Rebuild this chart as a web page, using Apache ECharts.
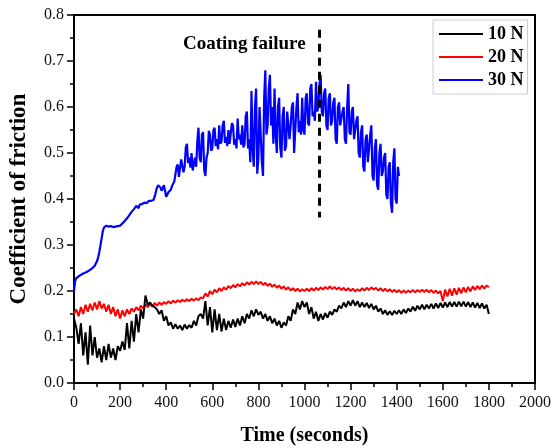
<!DOCTYPE html>
<html>
<head>
<meta charset="utf-8">
<script src="https://cdn.jsdelivr.net/npm/echarts@6/dist/echarts.min.js"></script>
<style>html,body{margin:0;padding:0;background:#fff;}#c{width:553px;height:448px;}</style>
</head>
<body>
<div id="c"></div>
<script>
// Sampling steps of the recorded curves (seconds)
const step30N = 5;
const step20N = 10;
const step10N = 10;

const seriesNames = ['10 N', '20 N', '30 N'];

// 30 N (blue), t = 0..1410 s every 5 s
const coef30N = [
0.200,0.222,0.228,0.230,0.232,0.233,0.235,0.236,0.238,0.239,
0.240,0.242,0.243,0.245,0.246,0.248,0.250,0.252,0.255,0.259,
0.265,0.274,0.285,0.300,0.315,0.330,0.338,0.341,0.342,0.341,
0.340,0.341,0.341,0.340,0.339,0.340,0.340,0.341,0.341,0.342,
0.342,0.345,0.347,0.350,0.352,0.355,0.358,0.362,0.365,0.368,
0.372,0.375,0.378,0.382,0.385,0.383,0.380,0.388,0.392,0.389,
0.386,0.392,0.395,0.391,0.388,0.396,0.400,0.396,0.392,0.398,
0.405,0.415,0.425,0.430,0.432,0.425,0.418,0.424,0.430,0.418,
0.405,0.410,0.415,0.418,0.420,0.428,0.430,0.438,0.442,0.470,
0.475,0.448,0.445,0.486,0.488,0.458,0.470,0.512,0.520,0.478,
0.490,0.468,0.500,0.462,0.465,0.490,0.470,0.525,0.555,0.490,
0.480,0.540,0.545,0.462,0.450,0.490,0.500,0.548,0.540,0.505,
0.510,0.550,0.555,0.515,0.530,0.508,0.560,0.520,0.525,0.560,
0.570,0.522,0.535,0.515,0.550,0.520,0.520,0.565,0.560,0.518,
0.530,0.510,0.575,0.530,0.540,0.518,0.560,0.512,0.520,0.580,
0.590,0.510,0.530,0.480,0.635,0.510,0.470,0.600,0.640,0.455,
0.490,0.600,0.600,0.480,0.450,0.620,0.680,0.540,0.560,0.640,
0.670,0.560,0.600,0.520,0.640,0.540,0.500,0.600,0.620,0.510,
0.490,0.580,0.600,0.505,0.515,0.590,0.590,0.530,0.560,0.600,
0.610,0.500,0.500,0.600,0.630,0.545,0.570,0.540,0.620,0.550,
0.540,0.620,0.630,0.565,0.560,0.640,0.650,0.580,0.590,0.570,
0.655,0.590,0.600,0.650,0.670,0.590,0.580,0.630,0.640,0.560,
0.550,0.620,0.630,0.560,0.570,0.610,0.620,0.530,0.520,0.600,
0.610,0.560,0.560,0.590,0.600,0.530,0.520,0.600,0.650,0.545,
0.540,0.590,0.600,0.530,0.530,0.570,0.580,0.500,0.490,0.545,
0.560,0.470,0.460,0.530,0.540,0.480,0.480,0.540,0.560,0.450,
0.440,0.510,0.530,0.430,0.420,0.500,0.520,0.450,0.460,0.490,
0.500,0.410,0.400,0.470,0.480,0.390,0.370,0.480,0.510,0.400,
0.390,0.470,0.450];

// 20 N (red), t = 0..1800 s every 10 s
const coef20N = [
0.150,0.160,0.145,0.165,0.150,0.170,0.155,0.172,0.158,0.175,
0.160,0.178,0.162,0.172,0.155,0.170,0.150,0.165,0.145,0.160,
0.140,0.158,0.145,0.160,0.150,0.162,0.155,0.165,0.158,0.168,
0.162,0.170,0.165,0.172,0.166,0.174,0.168,0.175,0.170,0.176,
0.172,0.178,0.173,0.179,0.175,0.180,0.176,0.181,0.177,0.182,
0.178,0.183,0.179,0.184,0.180,0.186,0.184,0.195,0.188,0.200,
0.193,0.203,0.197,0.206,0.200,0.208,0.203,0.211,0.206,0.213,
0.208,0.215,0.210,0.217,0.212,0.219,0.214,0.220,0.215,0.221,
0.215,0.220,0.213,0.218,0.211,0.216,0.209,0.214,0.207,0.212,
0.205,0.210,0.203,0.208,0.201,0.206,0.200,0.205,0.199,0.204,
0.200,0.205,0.200,0.206,0.201,0.207,0.202,0.208,0.203,0.209,
0.204,0.210,0.204,0.209,0.203,0.208,0.202,0.207,0.201,0.206,
0.200,0.205,0.199,0.204,0.200,0.206,0.201,0.207,0.202,0.208,
0.203,0.207,0.201,0.206,0.200,0.205,0.199,0.204,0.198,0.203,
0.197,0.202,0.196,0.201,0.196,0.201,0.197,0.202,0.197,0.202,
0.198,0.203,0.198,0.203,0.197,0.202,0.196,0.201,0.195,0.200,
0.178,0.203,0.188,0.205,0.190,0.206,0.192,0.207,0.195,0.208,
0.197,0.209,0.199,0.210,0.202,0.211,0.204,0.212,0.205,0.212,
0.208];

// 10 N (black), t = 0..1800 s every 10 s
const coef10N = [
0.140,0.120,0.085,0.130,0.060,0.110,0.040,0.125,0.060,0.100,
0.055,0.075,0.045,0.080,0.050,0.085,0.055,0.075,0.050,0.080,
0.070,0.090,0.072,0.130,0.075,0.135,0.090,0.150,0.110,0.160,
0.140,0.190,0.170,0.175,0.168,0.165,0.160,0.150,0.158,0.135,
0.145,0.125,0.132,0.118,0.128,0.118,0.125,0.115,0.127,0.118,
0.126,0.120,0.135,0.125,0.145,0.150,0.140,0.178,0.125,0.165,
0.110,0.160,0.115,0.150,0.112,0.140,0.115,0.135,0.120,0.138,
0.122,0.140,0.125,0.145,0.130,0.150,0.140,0.158,0.145,0.160,
0.148,0.155,0.140,0.150,0.135,0.145,0.130,0.140,0.125,0.135,
0.120,0.132,0.125,0.145,0.135,0.160,0.150,0.175,0.160,0.178,
0.165,0.175,0.150,0.165,0.140,0.155,0.135,0.150,0.138,0.152,
0.142,0.155,0.148,0.160,0.155,0.168,0.162,0.175,0.165,0.178,
0.168,0.180,0.168,0.178,0.165,0.175,0.165,0.174,0.163,0.172,
0.160,0.168,0.155,0.162,0.150,0.158,0.148,0.156,0.148,0.157,
0.150,0.158,0.150,0.160,0.152,0.162,0.155,0.166,0.157,0.168,
0.160,0.170,0.160,0.170,0.162,0.172,0.162,0.173,0.163,0.174,
0.164,0.175,0.165,0.176,0.166,0.176,0.166,0.177,0.167,0.177,
0.166,0.176,0.165,0.175,0.164,0.174,0.163,0.173,0.162,0.170,
0.150];

// Axis ranges / ticks
const xTicks = [0,200,400,600,800,1000,1200,1400,1600,1800,2000];
const yTicks = [0.0,0.1,0.2,0.3,0.4,0.5,0.6,0.7,0.8];

// Coating failure marker: time (s) and vertical extent (coef.)
const failureTime = [1065];
const failureRange = [0.36, 0.768];
const failureLabel = 'Coating failure';

function toPairs(arr, step){ return arr.map((v,i)=>[i*step, v]); }

const chart = echarts.init(document.getElementById('c'), null, {renderer:'canvas'});
const serif = '"Liberation Serif","Times New Roman",serif';

chart.setOption({
  animation:false,
  backgroundColor:'#fff',
  grid:{left:74, right:18, top:15, bottom:65, containLabel:false, outerBoundsMode:'none',
        show:true, borderColor:'#000', borderWidth:2, backgroundColor:'transparent'},
  xAxis:{
    type:'value', min:xTicks[0], max:xTicks[xTicks.length-1], interval:200,
    axisLine:{show:true, onZero:false, lineStyle:{color:'#000', width:2}},
    axisTick:{show:true, inside:false, length:7, lineStyle:{color:'#000', width:1.5}},
    minorTick:{show:true, splitNumber:2, length:4, lineStyle:{color:'#000', width:1.5}},
    splitLine:{show:false},
    axisLabel:{color:'#111', fontFamily:serif, fontSize:16, margin:12, formatter:v=>String(v)},
    name:'Time (seconds)', nameLocation:'middle', nameGap:43,
    nameTextStyle:{color:'#000', fontFamily:serif, fontSize:20, fontWeight:'bold'}
  },
  yAxis:{
    type:'value', min:yTicks[0], max:yTicks[yTicks.length-1], interval:0.1,
    axisLine:{show:true, lineStyle:{color:'#000', width:2}},
    axisTick:{show:true, inside:false, length:7, lineStyle:{color:'#000', width:1.5}},
    minorTick:{show:true, splitNumber:2, length:4, lineStyle:{color:'#000', width:1.5}},
    splitLine:{show:false},
    axisLabel:{color:'#111', fontFamily:serif, fontSize:16, margin:10, formatter:v=>v.toFixed(1)},
    name:'Coefficient of friction', nameLocation:'middle', nameGap:43,
    nameTextStyle:{color:'#000', fontFamily:serif, fontSize:23, fontWeight:'bold'}
  },
  legend:{
    data:seriesNames, orient:'vertical', left:433, top:20,
    padding:[5,4,5,6], itemGap:5, itemWidth:44, itemHeight:2,
    icon:'rect', backgroundColor:'#fff', borderColor:'#ccc', borderWidth:1,
    textStyle:{color:'#000', fontFamily:serif, fontSize:18, fontWeight:'bold', padding:[0,0,0,0]}
  },
  graphic:[{
    type:'text', left:183, top:35,
    style:{text:failureLabel, fill:'#000', font:'bold 19px '+serif}
  }],
  series:[
    {name:'30 N', type:'line', data:toPairs(coef30N, step30N), showSymbol:false, symbol:'none',
     lineStyle:{color:'#0000ff', width:2.2}, itemStyle:{color:'#0000ff'},
     markLine:{silent:true, symbol:['none','none'], label:{show:false},
       lineStyle:{color:'#000', width:3, type:[8,6]},
       data:[[{coord:[failureTime[0], failureRange[1]]},{coord:[failureTime[0], failureRange[0]]}]]}
    },
    {name:'20 N', type:'line', data:toPairs(coef20N, step20N), showSymbol:false, symbol:'none',
     lineStyle:{color:'#ff0000', width:2}, itemStyle:{color:'#ff0000'}},
    {name:'10 N', type:'line', data:toPairs(coef10N, step10N), showSymbol:false, symbol:'none',
     lineStyle:{color:'#000000', width:2}, itemStyle:{color:'#000000'}}
  ]
});
</script>
</body>
</html>
